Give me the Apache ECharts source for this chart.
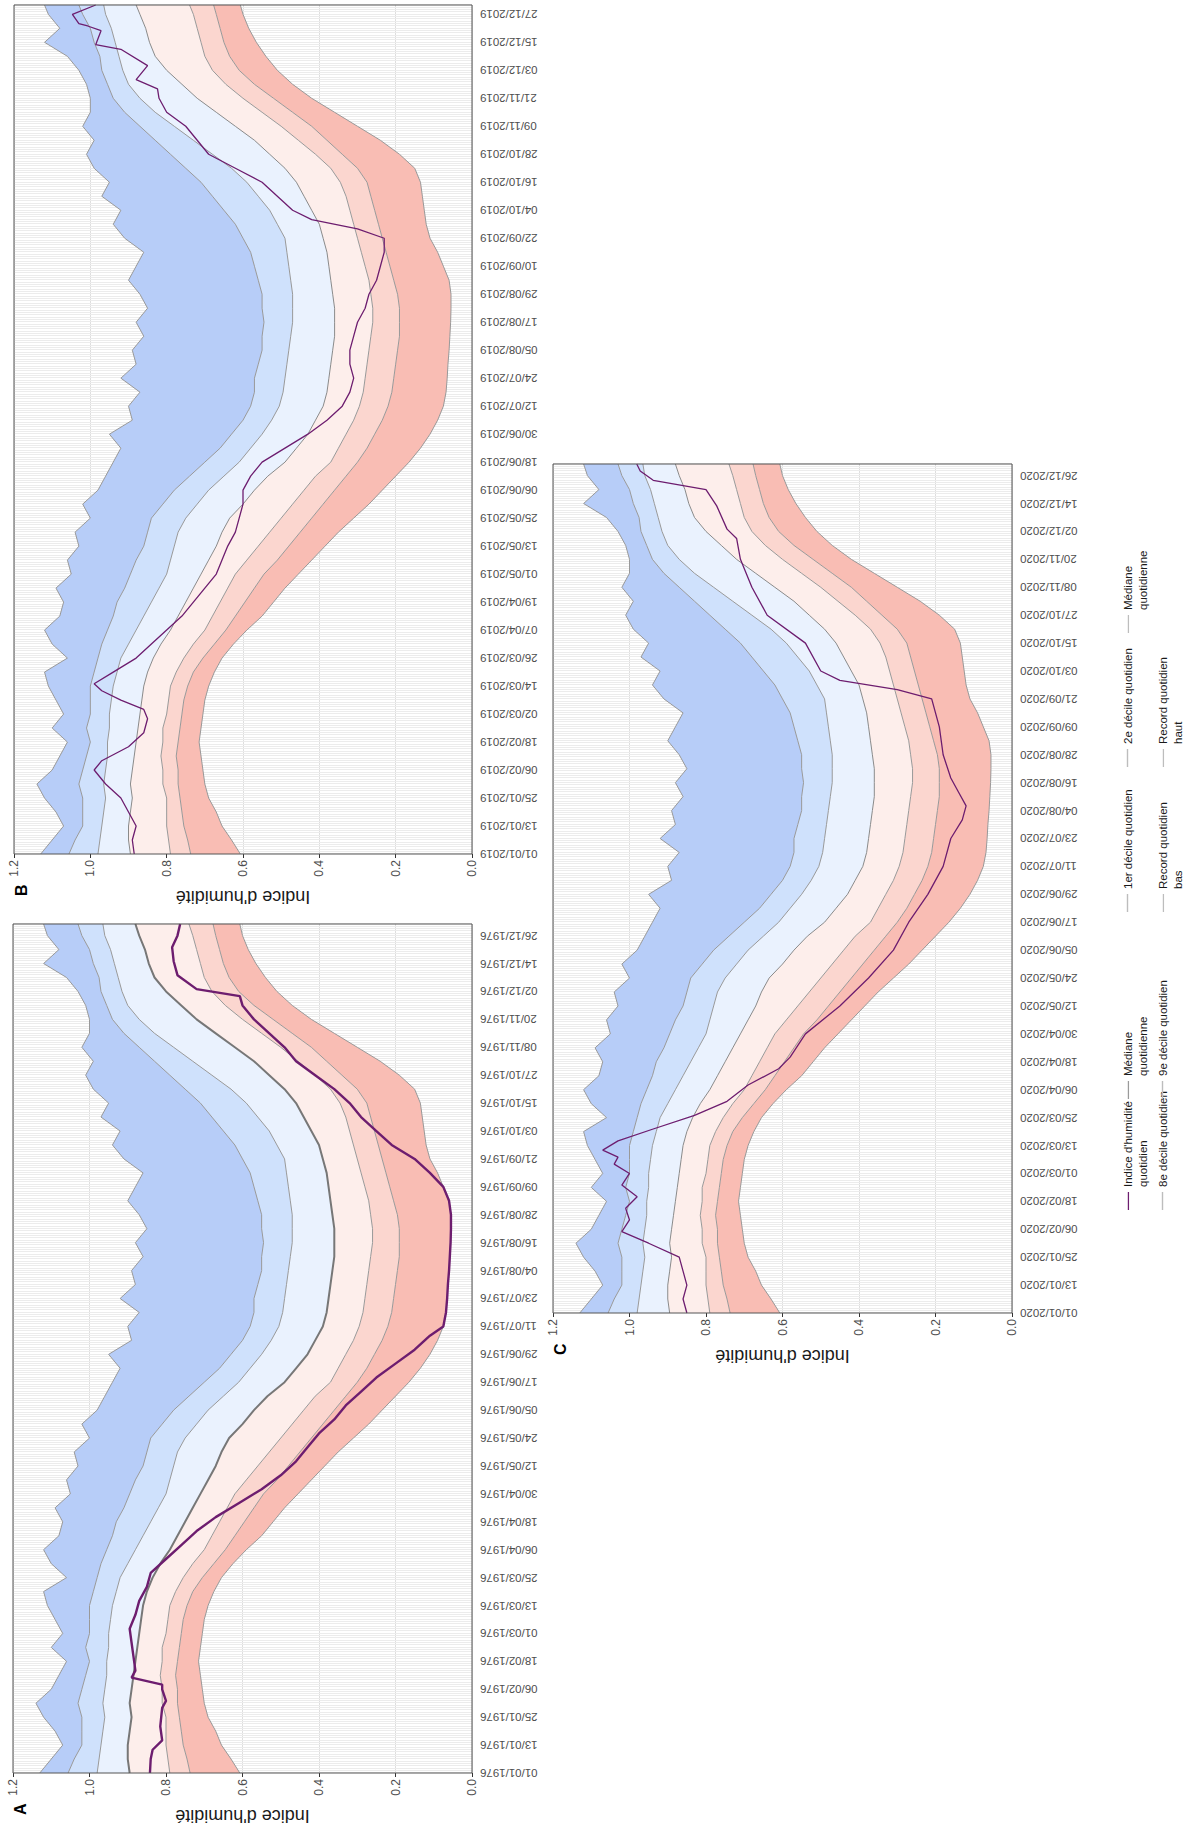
<!DOCTYPE html>
<html><head><meta charset="utf-8">
<script src="https://cdn.jsdelivr.net/npm/echarts@6/dist/echarts.min.js"></script>
<style>
html,body{margin:0;padding:0;background:#fff;overflow:hidden;width:1189px;height:1827px;}
#wrap{position:absolute;left:0;top:0;width:1827px;height:1189px;transform-origin:0 0;transform:translate(0px,1827px) rotate(-90deg);}
</style></head><body><div id="wrap"></div>
<script>
// ---- daily climatology (day of year, every 6 days) ----
const climDays = [0,6,12,18,24,30,36,42,48,54, 60,66,72,78,84,90,96,102,108,114, 120,126,132,138,144,150,156,162,168,174,
  180,186,192,198,204,210,216,222,228,234, 240,246,252,258,264,270,276,282,288,294, 300,306,312,318,324,330,336,342,348,354, 360,365];
const recordHaut = [1.13,1.10,1.07,1.09,1.12,1.14,1.10,1.08,1.06,1.10, 1.07,1.09,1.11,1.12,1.06,1.10,1.12,1.08,1.07,1.09,
  1.05,1.06,1.03,1.04,1.00,1.02,0.98,0.96,0.94,0.92, 0.95,0.89,0.90,0.87,0.92,0.88,0.89,0.86,0.88,0.85,
  0.87,0.90,0.88,0.86,0.91,0.94,0.92,0.97,0.95,0.99, 1.01,0.99,1.02,1.00,1.00,1.01,1.03,1.06,1.12,1.08, 1.11,1.12];
const decile9 = [1.056,1.04,1.02,1.02,1.02,1.03,1.02,1.01,1.00,1.01, 1.00,1.00,1.00,0.99,0.98,0.97,0.955,0.94,0.93,0.91,
  0.895,0.88,0.86,0.85,0.84,0.81,0.78,0.74,0.70,0.66, 0.63,0.60,0.58,0.57,0.57,0.56,0.55,0.55,0.545,0.55,
  0.55,0.56,0.57,0.58,0.60,0.62,0.65,0.68,0.71,0.75, 0.79,0.83,0.87,0.91,0.94,0.955,0.97,0.975,0.99,1.00, 1.02,1.03];
const decile8 = [0.98,0.975,0.97,0.965,0.96,0.965,0.96,0.955,0.955,0.95, 0.95,0.945,0.94,0.93,0.92,0.90,0.88,0.86,0.84,0.82,
  0.80,0.79,0.78,0.77,0.75,0.72,0.69,0.65,0.61,0.58, 0.55,0.525,0.505,0.495,0.49,0.485,0.48,0.475,0.47,0.47,
  0.47,0.475,0.48,0.485,0.49,0.51,0.53,0.56,0.59,0.63, 0.68,0.73,0.78,0.83,0.87,0.90,0.915,0.925,0.935,0.945, 0.96,0.965];
const mediane = [0.895,0.90,0.90,0.895,0.89,0.895,0.89,0.885,0.88,0.875, 0.87,0.865,0.86,0.85,0.835,0.815,0.79,0.77,0.75,0.73,
  0.71,0.69,0.67,0.655,0.635,0.60,0.57,0.535,0.49,0.46, 0.43,0.41,0.39,0.38,0.375,0.37,0.365,0.36,0.36,0.36,
  0.365,0.37,0.375,0.38,0.39,0.40,0.42,0.44,0.46,0.49, 0.53,0.57,0.62,0.67,0.72,0.76,0.80,0.83,0.845,0.855, 0.87,0.88];
const decile2 = [0.79,0.795,0.80,0.80,0.80,0.81,0.81,0.815,0.81,0.81, 0.80,0.795,0.79,0.775,0.755,0.73,0.70,0.68,0.66,0.64,
  0.62,0.59,0.56,0.53,0.50,0.47,0.44,0.41,0.37,0.35, 0.33,0.31,0.295,0.285,0.28,0.275,0.27,0.265,0.26,0.26,
  0.265,0.27,0.28,0.29,0.30,0.31,0.32,0.33,0.345,0.37, 0.41,0.455,0.50,0.55,0.60,0.645,0.68,0.70,0.71,0.72, 0.73,0.74];
const decile1 = [0.737,0.745,0.755,0.76,0.765,0.77,0.77,0.775,0.77,0.765, 0.76,0.755,0.745,0.73,0.705,0.675,0.645,0.62,0.595,0.57,
  0.545,0.51,0.48,0.45,0.42,0.39,0.36,0.33,0.30,0.275, 0.255,0.235,0.22,0.21,0.205,0.20,0.195,0.19,0.19,0.19,
  0.195,0.205,0.215,0.225,0.235,0.245,0.255,0.265,0.275,0.30, 0.34,0.38,0.42,0.47,0.52,0.57,0.61,0.635,0.65,0.66, 0.67,0.677];
const recordBas = [0.607,0.63,0.655,0.67,0.69,0.70,0.705,0.71,0.715,0.71, 0.705,0.70,0.69,0.675,0.655,0.625,0.59,0.55,0.52,0.49,
  0.455,0.42,0.385,0.35,0.31,0.27,0.235,0.20,0.165,0.135, 0.11,0.09,0.075,0.068,0.065,0.063,0.06,0.058,0.056,0.055,
  0.055,0.06,0.075,0.09,0.11,0.12,0.125,0.13,0.135,0.15, 0.19,0.24,0.30,0.36,0.42,0.47,0.51,0.54,0.565,0.585, 0.60,0.607];

// ---- daily humidity index of each year ----
const idxDays1976 = [0,6,10,14,20,28,31,36,38,41, 44,50,56,62,68,74,80,86,92,98, 104,110,116,122,128,134,140,146,152,158,
  164,170,176,182,188,192,198,204,210,216, 222,228,234,240,246,252,258,264,270,276, 282,288,294,300,306,312,318,324,330,334, 337,343,349,355,360,365];
const idx1976 = [0.842,0.84,0.835,0.81,0.815,0.81,0.80,0.81,0.81,0.89, 0.88,0.885,0.89,0.895,0.88,0.87,0.85,0.84,0.80,0.76,
  0.72,0.67,0.61,0.55,0.50,0.46,0.43,0.40,0.36,0.33, 0.29,0.25,0.20,0.15,0.11,0.075,0.068,0.065,0.063,0.06,
  0.058,0.056,0.055,0.055,0.06,0.075,0.11,0.15,0.21,0.25, 0.29,0.32,0.36,0.41,0.46,0.49,0.53,0.57,0.60,0.607, 0.72,0.77,0.78,0.784,0.77,0.763];
const idxDays2019 = [0,6,12,18,24,30,36,40,46,52, 58,62,66,70,73,78,84,90,96,102, 108,114,120,126,132,138,144,150,156,162,
  168,174,180,186,192,198,204,210,216,222, 228,234,240,246,252,258,264,268,272,276, 282,288,294,300,306,312,318,324,328,332, 338,345,347,353,355,356,360,364];
const idx2019 = [0.885,0.89,0.88,0.90,0.92,0.96,0.99,0.97,0.90,0.86, 0.85,0.86,0.92,0.97,0.99,0.94,0.88,0.84,0.80,0.76,
  0.73,0.70,0.67,0.655,0.64,0.62,0.61,0.60,0.60,0.58, 0.55,0.49,0.43,0.38,0.34,0.32,0.31,0.32,0.32,0.31,
  0.30,0.28,0.27,0.25,0.24,0.23,0.23,0.30,0.42,0.47, 0.51,0.55,0.62,0.69,0.72,0.75,0.80,0.82,0.824,0.88, 0.85,0.92,0.986,0.972,1.007,1.03,1.047,0.986];
const idxDays2020 = [0,6,12,18,24,30,35,40,45,50,55,60,64,67,70,74,79,85,91,98,105,110,120,132,144,156,168,180,192,204,
  212,218,224,230,240,252,264,268,272,276,288,300,312,324,333,337,347,354,358,362,365];
const idx2020 = [0.85,0.86,0.85,0.86,0.87,0.95,1.02,1.00,1.01,0.98,1.02,1.00,1.04,1.03,1.07,1.03,0.94,0.83,0.745,0.69,0.61,0.58,0.54,0.45,0.375,0.31,0.27,0.22,0.18,0.16,
  0.13,0.12,0.14,0.16,0.18,0.19,0.21,0.30,0.45,0.50,0.54,0.64,0.68,0.71,0.72,0.745,0.772,0.80,0.938,0.972,0.981];

const panelLabels = ['A','B','C'];
const years = [1976, 2019, 2020];
const axisName = "Indice d'humidité";

const NAMES = {
  idx: "Indice d'humidité quotidien",
  med: 'Médiane quotidienne',
  d1: '1er décile quotidien',
  d2: '2e décile quotidien',
  d8: '8e décile quotidien',
  d9: '9e décile quotidien',
  rb: 'Record quotidien bas',
  rh: 'Record quotidien haut'
};

const grids = [
  {left:54, top:13, width:849, height:459},
  {left:973, top:14, width:849, height:458},
  {left:514, top:553, width:849, height:459}
];
const FONT = 'Liberation Sans, Arial, Helvetica, sans-serif';
const LINE_GRAY = '#999999';
const PURPLE = '#6d1d6f';

function fmtDate(year, d){
  const dt = new Date(Date.UTC(year,0,1+d));
  return String(dt.getUTCDate()).padStart(2,'0')+'/'+String(dt.getUTCMonth()+1).padStart(2,'0')+'/'+year;
}
function isLeap(y){return (y%4===0 && y%100!==0) || y%400===0;}

const xAxes=[], yAxes=[], series=[], titles=[], graphics=[];
const idxData = [[idxDays1976, idx1976],[idxDays2019, idx2019],[idxDays2020, idx2020]];
const bands = [
  {lo:recordBas, hi:decile1, color:'#f9bdb4'},
  {lo:decile1, hi:decile2, color:'#fbd6cf'},
  {lo:decile2, hi:mediane, color:'#fdeeeb'},
  {lo:mediane, hi:decile8, color:'#eaf2fe'},
  {lo:decile8, hi:decile9, color:'#cfe1fc'},
  {lo:decile9, hi:recordHaut, color:'#b7cdf8'}
];
const boundaries = [
  {name:NAMES.rb, arr:recordBas},
  {name:NAMES.d1, arr:decile1},
  {name:NAMES.d2, arr:decile2},
  {name:NAMES.med, arr:mediane, strong:true},
  {name:NAMES.d8, arr:decile8},
  {name:NAMES.d9, arr:decile9},
  {name:NAMES.rh, arr:recordHaut}
];

grids.forEach((g,k)=>{
  const year = years[k];
  const nDays = isLeap(year) ? 366 : 365;
  const lastDay = nDays-1;
  const cats = Array.from({length:nDays}, (_,d)=>fmtDate(year,d));
  const cx = d => Math.min(d, lastDay);
  xAxes.push({
    gridIndex:k, type:'category', data:cats, boundaryGap:false,
    axisLine:{show:false}, axisTick:{show:false},
    axisLabel:{rotate:90, interval:11, fontSize:11.5, fontFamily:FONT, color:'#4d4d4d', margin:8},
    splitLine:{show:true, interval:0, lineStyle:{color:'#ececec', width:1}}
  });
  yAxes.push({
    gridIndex:k, type:'value', min:0, max:1.2, interval:0.2,
    name:axisName, nameLocation:'middle', nameGap:34, nameRotate:90,
    nameTextStyle:{fontSize:18, fontFamily:FONT, color:'#1a1a1a'},
    axisLine:{show:false},
    axisTick:{show:true, length:4, lineStyle:{color:'#333'}},
    axisLabel:{fontSize:12, fontFamily:FONT, color:'#4d4d4d', margin:6, formatter:(v)=>v.toFixed(1)},
    splitLine:{show:true, lineStyle:{color:'#dedede', width:1}}
  });
  // stacked bands
  series.push({type:'line', name:'base'+k, xAxisIndex:k, yAxisIndex:k, stack:'s'+k, symbol:'none', silent:true,
    data: climDays.map((d,i)=>[cx(d), recordBas[i]]), lineStyle:{width:0, opacity:0}, z:2});
  bands.forEach((b,j)=>{
    series.push({type:'line', name:'band'+k+'_'+j, xAxisIndex:k, yAxisIndex:k, stack:'s'+k, symbol:'none', silent:true,
      data: climDays.map((d,i)=>[cx(d), +(b.hi[i]-b.lo[i]).toFixed(4)]),
      lineStyle:{width:0, opacity:0}, areaStyle:{color:b.color, opacity:1}, z:2});
  });
  // boundary lines
  boundaries.forEach(bd=>{
    series.push({type:'line', name:bd.name, xAxisIndex:k, yAxisIndex:k, symbol:'none', silent:true,
      data: climDays.map((d,i)=>[cx(d), bd.arr[i]]),
      lineStyle:{color: bd.strong ? (k===0?'#777777':'#8a8a8a') : LINE_GRAY, width: (k===0 && bd.strong)?2:1}, z:3});
  });
  // index line
  const [dd, vv] = idxData[k];
  series.push({type:'line', name:NAMES.idx, xAxisIndex:k, yAxisIndex:k, symbol:'none', silent:true,
    data: dd.map((d,i)=>[cx(d), vv[i]]), lineStyle:{color:PURPLE, width: k===0?2.4:1.3}, z:4});
  titles.push({text:panelLabels[k], left: g.left-47, top: g.top-6,
    textStyle:{fontSize:16, fontWeight:'bold', fontFamily:FONT, color:'#000'}});
  graphics.push({type:'rect', shape:{x:g.left, y:g.top, width:g.width, height:g.height},
    style:{fill:'none', stroke:'#555', lineWidth:1}, z:100, silent:true});
});

// legend, two rows of items
const legendItems = [
  {name:NAMES.idx, text:"Indice d'humidité\nquotidien", color:PURPLE, left:617, row:0},
  {name:NAMES.med, text:'Médiane\nquotidienne', color:'#9a9a9a', left:728, row:0},
  {name:NAMES.d1, text:'1er décile quotidien', color:'#bdbdbd', left:915, row:0},
  {name:NAMES.d2, text:'2e décile quotidien', color:'#bdbdbd', left:1060, row:0},
  {name:NAMES.med, text:'Médiane\nquotidienne', color:'#bdbdbd', left:1194, row:0},
  {name:NAMES.d8, text:'8e décile quotidien', color:'#bdbdbd', left:617, row:1},
  {name:NAMES.d9, text:'9e décile quotidien', color:'#bdbdbd', left:728, row:1},
  {name:NAMES.rb, text:'Record quotidien\nbas', color:'#bdbdbd', left:915, row:1},
  {name:NAMES.rh, text:'Record quotidien\nhaut', color:'#bdbdbd', left:1060, row:1}
];
const legends = legendItems.map(it=>{
  const two = it.text.indexOf('\n')>=0;
  return {
    left: it.left, top: it.row===0 ? 1120 : 1155, padding:0, selectedMode:false,
    itemWidth:18, itemHeight: two?30:1.4,
    data:[{name:it.name, icon: two ? 'path://M0,0H0.01V0.01H0Z M0,7H20V8.4H0Z M0,30H0.01V30.01H0Z' : 'rect', itemStyle:{color:it.color}}],
    formatter: ()=> it.text,
    textStyle:{fontSize:11.5, fontFamily:FONT, color:'#1a1a1a', lineHeight:15}
  };
});

const chart = echarts.init(document.getElementById('wrap'), null, {renderer:'svg', width:1827, height:1189});
chart.setOption({
  animation:false,
  backgroundColor:'#ffffff',
  title: titles,
  grid: grids.map(g=>Object.assign({show:true, backgroundColor:'#ffffff', borderWidth:0}, g)),
  xAxis: xAxes, yAxis: yAxes,
  legend: legends,
  series: series,
  graphic: graphics
});
</script></body></html>
